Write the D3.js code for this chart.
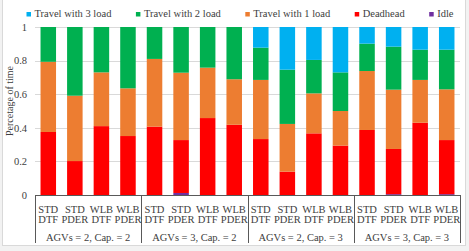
<!DOCTYPE html>
<html>
<head>
<meta charset="utf-8">
<script src="https://cdn.jsdelivr.net/npm/d3@7"></script>
<style>
  html, body { margin: 0; padding: 0; background: #f2f2f2; }
  svg { display: block; }
  svg text { font-family: "Liberation Serif", "Times New Roman", serif; }
</style>
</head>
<body>
<svg id="chart" width="469" height="251"></svg>
<script>
// ---- data ----
const groups = ["AGVs = 2, Cap. = 2", "AGVs = 3, Cap. = 2", "AGVs = 2, Cap. = 3", "AGVs = 3, Cap. = 3"];
const methods = [["STD", "DTF"], ["STD", "PDER"], ["WLB", "DTF"], ["WLB", "PDER"]];
const seriesNames = ["Idle", "Deadhead", "Travel with 1 load", "Travel with 2 load", "Travel with 3 load"];
const seriesColors = ["#7030a0", "#ff0000", "#ed7d31", "#00b050", "#00b0f0"];
const legendOrder = ["Travel with 3 load", "Travel with 2 load", "Travel with 1 load", "Deadhead", "Idle"];

const idle      = [0, 0, 0, 0,   0, 0.012, 0, 0,   0, 0, 0, 0,   0, 0.005, 0, 0.005];
const deadhead  = [0.375, 0.202, 0.410, 0.351,   0.407, 0.315, 0.458, 0.418,   0.333, 0.139, 0.367, 0.294,   0.387, 0.269, 0.430, 0.322];
const travel1   = [0.418, 0.389, 0.320, 0.284,   0.403, 0.401, 0.300, 0.271,   0.352, 0.284, 0.238, 0.206,   0.351, 0.353, 0.255, 0.302];
const travel2   = [0.207, 0.409, 0.270, 0.365,   0.190, 0.272, 0.242, 0.311,   0.192, 0.323, 0.199, 0.230,   0.163, 0.256, 0.180, 0.236];
const travel3   = [0, 0, 0, 0,   0, 0, 0, 0,   0.123, 0.254, 0.196, 0.270,   0.099, 0.117, 0.135, 0.135];
const yTicks = [0, 0.2, 0.4, 0.6, 0.8, 1];
const yTickLabels = ["0", "0.2", "0.4", "0.6", "0.8", "1"];
const yTitle = "Percetage of time";

// ---- build table ----
const seriesArrays = [idle, deadhead, travel1, travel2, travel3];
const rows = [];
groups.forEach((g, gi) => {
  methods.forEach((m, mi) => {
    const i = gi * methods.length + mi;
    const row = { id: i, group: g, method: m };
    seriesNames.forEach((s, si) => row[s] = seriesArrays[si][i]);
    rows.push(row);
  });
});

const FONT = "Liberation Serif, Times New Roman, serif";
const svg = d3.select("#chart").attr("font-family", FONT);
const plot = { left: 35, right: 460, top: 27, bottom: 195 };

// chart background
svg.append("rect").attr("x", 2.5).attr("y", -1).attr("width", 463).attr("height", 246.5)
  .attr("fill", "#ffffff").attr("stroke", "#d9d9d9").attr("stroke-width", 1);

const x = d3.scaleBand().domain(rows.map(d => d.id)).range([plot.left, plot.right])
  .paddingInner(0.416).paddingOuter(0.208);
const y = d3.scaleLinear().domain([0, 1]).range([plot.bottom, plot.top]);

// gridlines
svg.append("g").selectAll("line").data(yTicks.filter(t => t > 0)).join("line")
  .attr("x1", plot.left).attr("x2", plot.right)
  .attr("y1", d => Math.round(y(d)) + 0.5).attr("y2", d => Math.round(y(d)) + 0.5)
  .attr("stroke", "#d9d9d9").attr("stroke-width", 1);

// y axis labels
const yAxis = d3.axisLeft(y).tickValues(yTicks).tickFormat((d, i) => yTickLabels[i]).tickSize(0).tickPadding(8);
const yg = svg.append("g").attr("transform", `translate(${plot.left},0)`).call(yAxis)
  .attr("font-family", FONT).attr("font-size", 10.5);
yg.select(".domain").remove();
yg.selectAll("text").attr("fill", "#404040");

// y title
svg.append("text").attr("transform", `translate(13,${(plot.top + plot.bottom) / 2 - 10}) rotate(-90)`)
  .attr("text-anchor", "middle").attr("font-size", 10).attr("fill", "#404040").text(yTitle);

// stacks
const stack = d3.stack().keys(seriesNames);
const stacked = stack(rows);
svg.append("g").selectAll("g").data(stacked).join("g")
  .attr("fill", (d, i) => seriesColors[i])
  .selectAll("rect").data(d => d).join("rect")
  .attr("x", d => x(d.data.id))
  .attr("width", x.bandwidth())
  .attr("y", d => y(d[1]))
  .attr("height", d => Math.max(0, y(d[0]) - y(d[1])));

// category axis (multi-level)
const axisColor = "#595959";
svg.append("line").attr("x1", plot.left).attr("x2", plot.right)
  .attr("y1", plot.bottom + 0.5).attr("y2", plot.bottom + 0.5)
  .attr("stroke", axisColor).attr("stroke-width", 1);
const bounds = d3.range(groups.length + 1).map(k => k === groups.length ? plot.right : x(k * methods.length) - x.step() * x.paddingOuter());
svg.append("g").selectAll("line").data(bounds).join("line")
  .attr("x1", d => Math.round(d) + 0.5).attr("x2", d => Math.round(d) + 0.5)
  .attr("y1", plot.bottom).attr("y2", 243)
  .attr("stroke", axisColor).attr("stroke-width", 1);

const cat = svg.append("g").attr("font-size", 10.5).attr("fill", "#404040").attr("text-anchor", "middle");
rows.forEach(d => {
  const cx = x(d.id) + x.bandwidth() / 2;
  cat.append("text").attr("x", cx).attr("y", 212.5).text(d.method[0]);
  cat.append("text").attr("x", cx).attr("y", 222.5).text(d.method[1]);
});
groups.forEach((g, gi) => {
  const cx = (bounds[gi] + bounds[gi + 1]) / 2;
  cat.append("text").attr("x", cx).attr("y", 241).text(g);
});

// legend
const lg = svg.append("g").attr("font-size", 10.5).attr("fill", "#404040");
let lx = 26.5;
legendOrder.forEach(name => {
  const ci = seriesNames.indexOf(name);
  lg.append("rect").attr("x", lx).attr("y", 12).attr("width", 4.5).attr("height", 4.5).attr("fill", seriesColors[ci]);
  const t = lg.append("text").attr("x", lx + 8).attr("y", 17.3).text(name);
  lx += 8 + t.node().getComputedTextLength() + 24.5;
});
</script>
</body>
</html>
